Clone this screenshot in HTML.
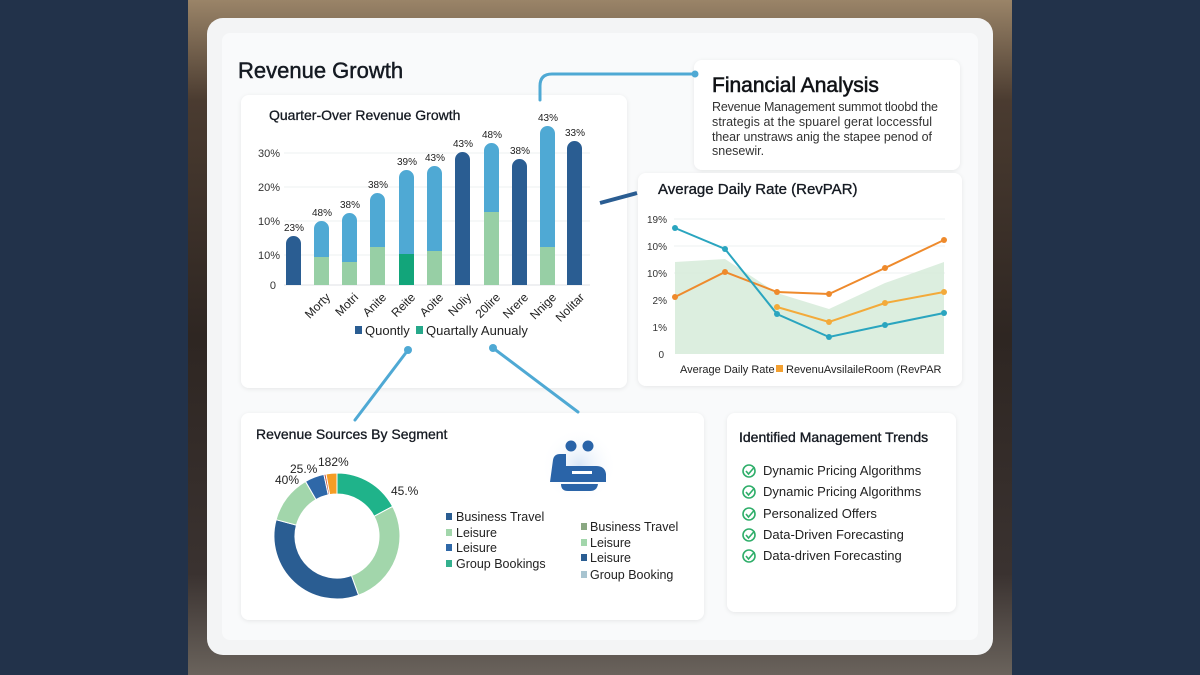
<!DOCTYPE html>
<html><head><meta charset="utf-8"><style>
html,body{margin:0;padding:0;width:1200px;height:675px;overflow:hidden;background:#22324a}
svg{display:block}
text{font-family:"Liberation Sans",sans-serif}
.t{stroke:#151a22;stroke-width:0.45}
</style></head><body>
<svg width="1200" height="675" viewBox="0 0 1200 675" xmlns="http://www.w3.org/2000/svg">
<defs>
<linearGradient id="bg" x1="0" y1="0" x2="0" y2="1">
<stop offset="0" stop-color="#9a8468"/><stop offset="0.15" stop-color="#4a3b30"/><stop offset="0.5" stop-color="#2e2622"/><stop offset="0.85" stop-color="#3a3230"/><stop offset="1" stop-color="#6a635c"/>
</linearGradient>
<radialGradient id="glow" cx="0.5" cy="0.5" r="0.5"><stop offset="0" stop-color="#d8e6f6"/><stop offset="1" stop-color="#ffffff" stop-opacity="0"/></radialGradient>
<filter id="sh" x="-5%" y="-5%" width="110%" height="110%"><feDropShadow dx="0" dy="1" stdDeviation="2" flood-color="#000" flood-opacity="0.08"/></filter>
</defs>
<rect x="188" y="0" width="824" height="675" fill="url(#bg)"/>
<rect x="207" y="18" width="786" height="637" rx="16" fill="#f3f4f5"/>
<rect x="222" y="33" width="756" height="607" rx="8" fill="#f9fafb"/>
<text x="238" y="78" font-size="22" fill="#151a22" class="t">Revenue Growth</text>

<g filter="url(#sh)" fill="#fff">
<rect x="241" y="95" width="386" height="293" rx="8"/>
<rect x="694" y="60" width="266" height="110" rx="8"/>
<rect x="638" y="173" width="324" height="213" rx="8"/>
<rect x="241" y="413" width="463" height="207" rx="8"/>
<rect x="727" y="413" width="229" height="199" rx="8"/>
</g>

<g stroke="#4fa9d4" stroke-width="3" fill="none" stroke-linecap="round">
<path d="M540 100 V86 Q540 74 552 74 H695"/>
<path d="M408 350 L355 420"/>
<path d="M493 348 L578 412"/>
</g>
<circle cx="695" cy="74" r="3.5" fill="#4fa9d4"/>
<circle cx="408" cy="350" r="4" fill="#4fa9d4"/>
<circle cx="493" cy="348" r="4" fill="#4fa9d4"/>
<path d="M600 203 L637 193" stroke="#2a5d92" stroke-width="4"/>

<text x="269" y="120" font-size="14" fill="#151a22" class="t" style="stroke-width:0.3">Quarter-Over Revenue Growth</text>
<g stroke="#eef0f2" stroke-width="1">
<line x1="284" y1="153" x2="590" y2="153"/><line x1="284" y1="187" x2="590" y2="187"/>
<line x1="284" y1="221" x2="590" y2="221"/><line x1="284" y1="255" x2="590" y2="255"/>
</g>
<line x1="284" y1="285" x2="590" y2="285" stroke="#dfe2e6"/>
<g font-size="11" fill="#333" text-anchor="end">
<text x="280" y="157">30%</text><text x="280" y="191">20%</text><text x="280" y="225">10%</text><text x="280" y="259">10%</text><text x="276" y="289">0</text>
</g>
<g>
<path d="M286 285 V243.5 a7.5 7.5 0 0 1 15 0 V285Z" fill="#2a5d92"/>
<path d="M314 285 V228.5 a7.5 7.5 0 0 1 15 0 V285Z" fill="#4fa9d4"/><rect x="314" y="257" width="15" height="28" fill="#97cfa5"/>
<path d="M342 285 V220.5 a7.5 7.5 0 0 1 15 0 V285Z" fill="#4fa9d4"/><rect x="342" y="262" width="15" height="23" fill="#97cfa5"/>
<path d="M370 285 V200.5 a7.5 7.5 0 0 1 15 0 V285Z" fill="#4fa9d4"/><rect x="370" y="247" width="15" height="38" fill="#97cfa5"/>
<path d="M399 285 V177.5 a7.5 7.5 0 0 1 15 0 V285Z" fill="#4fa9d4"/><rect x="399" y="254" width="15" height="31" fill="#12a57a"/>
<path d="M427 285 V173.5 a7.5 7.5 0 0 1 15 0 V285Z" fill="#4fa9d4"/><rect x="427" y="251" width="15" height="34" fill="#97cfa5"/>
<path d="M455 285 V159.5 a7.5 7.5 0 0 1 15 0 V285Z" fill="#2a5d92"/>
<path d="M484 285 V150.5 a7.5 7.5 0 0 1 15 0 V285Z" fill="#4fa9d4"/><rect x="484" y="212" width="15" height="73" fill="#97cfa5"/>
<path d="M512 285 V166.5 a7.5 7.5 0 0 1 15 0 V285Z" fill="#2a5d92"/>
<path d="M540 285 V133.5 a7.5 7.5 0 0 1 15 0 V285Z" fill="#4fa9d4"/><rect x="540" y="247" width="15" height="38" fill="#97cfa5"/>
<path d="M567 285 V148.5 a7.5 7.5 0 0 1 15 0 V285Z" fill="#2a5d92"/>
</g>
<g font-size="10" fill="#222" text-anchor="middle">
<text x="294" y="231">23%</text><text x="322" y="216">48%</text><text x="350" y="208">38%</text><text x="378" y="188">38%</text>
<text x="407" y="165">39%</text><text x="435" y="161">43%</text><text x="463" y="147">43%</text><text x="492" y="138">48%</text>
<text x="520" y="154">38%</text><text x="548" y="121">43%</text><text x="575" y="136">33%</text>
</g>
<g font-size="12" fill="#222" text-anchor="end">
<text transform="translate(331,298) rotate(-45)">Morty</text>
<text transform="translate(359,298) rotate(-45)">Motri</text>
<text transform="translate(387,298) rotate(-45)">Anite</text>
<text transform="translate(416,298) rotate(-45)">Reite</text>
<text transform="translate(444,298) rotate(-45)">Aoite</text>
<text transform="translate(472,298) rotate(-45)">Noliy</text>
<text transform="translate(501,298) rotate(-45)">20lire</text>
<text transform="translate(529,298) rotate(-45)">Nrere</text>
<text transform="translate(557,298) rotate(-45)">Nnige</text>
<text transform="translate(585,298) rotate(-45)">Nolitar</text>
</g>
<rect x="355" y="326" width="7" height="8" fill="#2a5d92"/><text x="365" y="335" font-size="13" fill="#222">Quontly</text>
<rect x="416" y="326" width="7" height="8" fill="#26a88a"/><text x="426" y="335" font-size="13" fill="#222">Quartally Aunualy</text>

<text x="712" y="92" font-size="21" fill="#111" class="t" style="stroke-width:0.6">Financial Analysis</text>
<g font-size="12.5" fill="#333">
<text x="712" y="111" textLength="226">Revenue Management summot tloobd the</text>
<text x="712" y="126" textLength="220">strategis at the spuarel gerat loccessful</text>
<text x="712" y="141" textLength="220">thear unstraws anig the stapee penod of</text>
<text x="712" y="155">snesewir.</text>
</g>

<text x="658" y="194" font-size="15" fill="#151a22" class="t" style="stroke-width:0.35">Average Daily Rate (RevPAR)</text>
<g stroke="#eef0f2"><line x1="674" y1="219" x2="945" y2="219"/><line x1="674" y1="246" x2="945" y2="246"/><line x1="674" y1="273" x2="945" y2="273"/></g>
<g font-size="10" fill="#333" text-anchor="end">
<text x="667" y="223">19%</text><text x="667" y="250">10%</text><text x="667" y="277">10%</text><text x="667" y="304">2%</text><text x="667" y="331">1%</text><text x="664" y="358">0</text>
</g>
<path d="M675 262 L725 259 L777 293 L829 309 L885 283 L944 262 V354 H675Z" fill="#d6ebd9" opacity="0.85"/>
<polyline points="675,297 725,272 777,292 829,294 885,268 944,240" fill="none" stroke="#ee8a2c" stroke-width="2"/>
<polyline points="777,307 829,322 885,303 944,292" fill="none" stroke="#f3aa3a" stroke-width="2"/>
<polyline points="675,228 725,249 777,314 829,337 885,325 944,313" fill="none" stroke="#2aa5bf" stroke-width="2"/>
<g fill="#ee8a2c"><circle cx="675" cy="297" r="3"/><circle cx="725" cy="272" r="3"/><circle cx="777" cy="292" r="3"/><circle cx="829" cy="294" r="3"/><circle cx="885" cy="268" r="3"/><circle cx="944" cy="240" r="3"/></g>
<g fill="#f3aa3a"><circle cx="777" cy="307" r="3"/><circle cx="829" cy="322" r="3"/><circle cx="885" cy="303" r="3"/><circle cx="944" cy="292" r="3"/></g>
<g fill="#2aa5bf"><circle cx="675" cy="228" r="3"/><circle cx="725" cy="249" r="3"/><circle cx="777" cy="314" r="3"/><circle cx="829" cy="337" r="3"/><circle cx="885" cy="325" r="3"/><circle cx="944" cy="313" r="3"/></g>
<text x="680" y="373" font-size="11" fill="#222">Average Daily Rate</text>
<rect x="776" y="365" width="7" height="7" fill="#f3a030"/>
<text x="786" y="373" font-size="11" fill="#222">RevenuAvsilaileRoom (RevPAR</text>

<text x="256" y="439" font-size="14" fill="#151a22" class="t" style="stroke-width:0.3">Revenue Sources By Segment</text>
<g transform="translate(337,536)" stroke="#fff" stroke-width="1">
<path d="M0 -63 A63 63 0 0 1 55.6 -29.6 L37.1 -19.7 A42 42 0 0 0 0 -42Z" fill="#1fb38a"/>
<path d="M55.6 -29.6 A63 63 0 0 1 21.5 59.2 L14.4 39.5 A42 42 0 0 0 37.1 -19.7Z" fill="#a2d6ab"/>
<path d="M21.5 59.2 A63 63 0 0 1 -60.9 -16.3 L-40.6 -10.9 A42 42 0 0 0 14.4 39.5Z" fill="#2a5d92"/>
<path d="M-60.9 -16.3 A63 63 0 0 1 -31.5 -54.6 L-21 -36.4 A42 42 0 0 0 -40.6 -10.9Z" fill="#a2d6ab"/>
<path d="M-31.5 -54.6 A63 63 0 0 1 -13.1 -61.6 L-8.7 -41.1 A42 42 0 0 0 -21 -36.4Z" fill="#2f68a8"/>
<path d="M-13.1 -61.6 A63 63 0 0 1 -11 -62 L-7.3 -41.4 A42 42 0 0 0 -8.7 -41.1Z" fill="#c0503a"/>
<path d="M-11 -62 A63 63 0 0 1 0 -63 L0 -42 A42 42 0 0 0 -7.3 -41.4Z" fill="#f59d25"/>
</g>
<g font-size="12" fill="#222">
<text x="391" y="495">45.%</text><text x="275" y="484">40%</text><text x="290" y="473">25.%</text><text x="318" y="466">182%</text>
</g>
<g font-size="12.5" fill="#222">
<rect x="446" y="513" width="6" height="7" fill="#2a5d92"/><text x="456" y="521">Business Travel</text>
<rect x="446" y="529" width="6" height="7" fill="#a2d6ab"/><text x="456" y="537">Leisure</text>
<rect x="446" y="544" width="6" height="7" fill="#2f68a8"/><text x="456" y="552">Leisure</text>
<rect x="446" y="560" width="6" height="7" fill="#34b08e"/><text x="456" y="568">Group Bookings</text>
<rect x="581" y="523" width="6" height="7" fill="#8aa882"/><text x="590" y="531">Business Travel</text>
<rect x="581" y="539" width="6" height="7" fill="#a2d6ab"/><text x="590" y="547">Leisure</text>
<rect x="581" y="554" width="6" height="7" fill="#2a5d92"/><text x="590" y="562">Leisure</text>
<rect x="581" y="571" width="6" height="7" fill="#a8c4d0"/><text x="590" y="579">Group Booking</text>
</g>
<circle cx="579" cy="466" r="38" fill="url(#glow)"/>
<g fill="#2a64a8">
<circle cx="571" cy="446" r="5.5"/><circle cx="588" cy="446" r="5.5"/>
<path d="M550 482 L553 460 Q554 454 560 454 H566 V466 H596 Q605 466 606 474 V482Z"/>
<path d="M561 484 H598 Q597 491 590 491 H568 Q561 491 561 484Z"/>
</g>
<rect x="572" y="471" width="20" height="3" fill="#fff"/>

<text x="739" y="442" font-size="14" fill="#151a22" class="t" style="stroke-width:0.35">Identified Management Trends</text>
<g font-size="13" fill="#222">
<text x="763" y="475">Dynamic Pricing Algorithms</text>
<text x="763" y="496">Dynamic Pricing Algorithms</text>
<text x="763" y="518">Personalized Offers</text>
<text x="763" y="539">Data-Driven Forecasting</text>
<text x="763" y="560">Data-driven Forecasting</text>
</g>
<g fill="none" stroke="#2fae6a" stroke-width="1.6">
<circle cx="749" cy="471" r="6"/><path d="M746 471 l2.5 3 l6 -7"/>
<circle cx="749" cy="492" r="6"/><path d="M746 492 l2.5 3 l6 -7"/>
<circle cx="749" cy="514" r="6"/><path d="M746 514 l2.5 3 l6 -7"/>
<circle cx="749" cy="535" r="6"/><path d="M746 535 l2.5 3 l6 -7"/>
<circle cx="749" cy="556" r="6"/><path d="M746 556 l2.5 3 l6 -7"/>
</g>
</svg>
</body></html>
